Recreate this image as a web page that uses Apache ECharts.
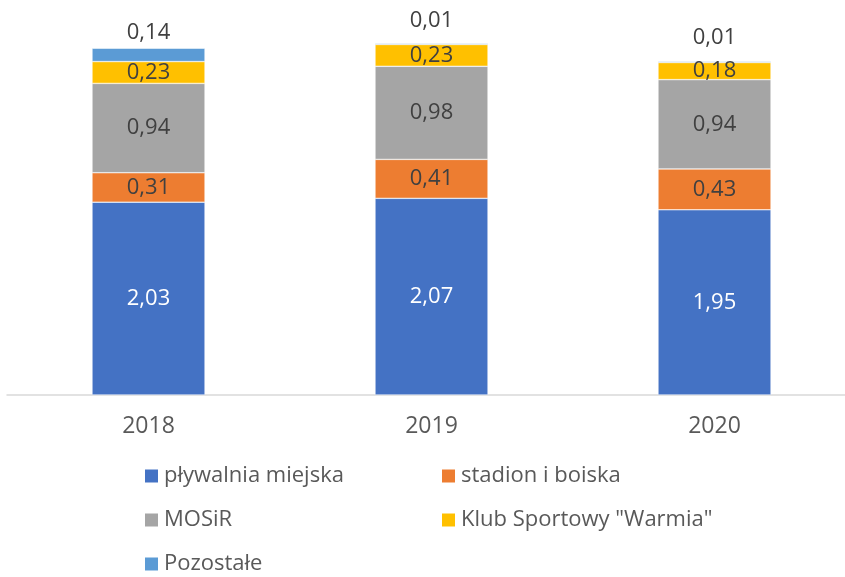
<!DOCTYPE html>
<html>
<head>
<meta charset="utf-8">
<script src="https://cdn.jsdelivr.net/npm/echarts@6/dist/echarts.min.js"></script>
<style>
  html, body { margin: 0; padding: 0; background: #fff; }
  #main { width: 845px; height: 577px; }
</style>
</head>
<body>
<div id="main"></div>
<script>
// dane
var years = ['2018', '2019', '2020'];
var seriesNames = ['pływalnia miejska', 'stadion i boiska', 'MOSiR', 'Klub Sportowy "Warmia"', 'Pozostałe'];
var plywalnia = [2.03, 2.07, 1.95];
var stadion = [0.31, 0.41, 0.43];
var mosir = [0.94, 0.98, 0.94];
var warmia = [0.23, 0.23, 0.18];
var pozostale = [0.14, 0.01, 0.01];

var colors = ['#4472C4', '#ED7D31', '#A5A5A5', '#FFC000', '#5B9BD5'];
var labelColors = ['#ffffff', '#404040', '#404040', '#404040', '#404040'];
var fontFam = '"Open Sans", "DejaVu Sans", sans-serif';

function fmt(p) {
    return p.value.toFixed(2).replace('.', ',');
}

var allData = [plywalnia, stadion, mosir, warmia, pozostale];
var topDist = [5, 12, 13];

var series = allData.map(function (vals, i) {
    var last = i === allData.length - 1;
    return {
        name: seriesNames[i],
        type: 'bar',
        stack: 'total',
        barWidth: 113,
        itemStyle: { color: colors[i], borderColor: '#fff', borderWidth: 0.5 },
        label: {
            show: true,
            position: last ? 'top' : 'inside',
            color: labelColors[i],
            fontSize: 22,
            fontFamily: fontFam,
            formatter: fmt
        },
        data: vals.map(function (v, j) {
            if (last) return { value: v, label: { distance: topDist[j] } };
            return v;
        })
    };
});

var legendText = { color: '#595959', fontSize: 22, lineHeight: 22, fontFamily: fontFam };

var chart = echarts.init(document.getElementById('main'));
var option = {
    backgroundColor: '#fff',
    animation: false,
    color: colors,
    grid: { left: 7, right: -11, top: 15, bottom: 182, outerBoundsMode: 'none' },
    xAxis: {
        type: 'category',
        data: years,
        axisLine: { lineStyle: { color: '#D9D9D9', width: 1.5 } },
        axisTick: { show: false },
        axisLabel: { color: '#595959', fontSize: 23, fontFamily: fontFam, margin: 20 }
    },
    yAxis: {
        type: 'value',
        min: 0,
        max: 4,
        show: false,
        splitLine: { show: false }
    },
    legend: [
        {
            data: [seriesNames[0], seriesNames[2], seriesNames[4]],
            orient: 'vertical',
            left: 143,
            top: 465,
            padding: 0,
            itemWidth: 15,
            itemHeight: 15,
            itemGap: 22,
            icon: 'rect',
            textStyle: legendText
        },
        {
            data: [seriesNames[1], seriesNames[3]],
            orient: 'vertical',
            left: 440,
            top: 465,
            padding: 0,
            itemWidth: 15,
            itemHeight: 15,
            itemGap: 22,
            icon: 'rect',
            textStyle: legendText
        }
    ],
    series: series
};
chart.setOption(option);
</script>
</body>
</html>
